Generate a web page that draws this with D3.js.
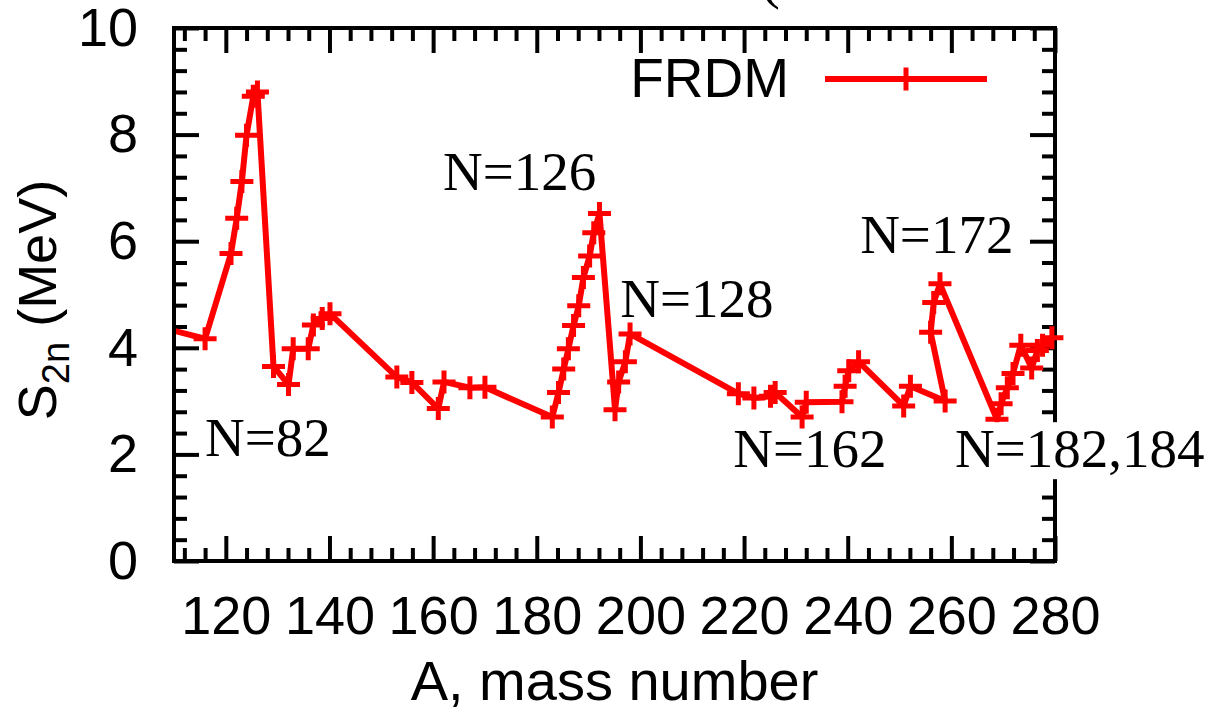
<!DOCTYPE html>
<html>
<head>
<meta charset="utf-8">
<script src="https://cdn.jsdelivr.net/npm/d3@7"></script>
<style>
  html, body { margin: 0; padding: 0; background: #fff; }
  svg { display: block; }
</style>
</head>
<body>
<svg id="chart" width="1214" height="718"></svg>
<script>
// FRDM two-neutron separation energies, listed in the order the curve is traced
const massNumber = [106.0, 116.0, 121.0, 122.1, 123.1, 124.0, 125.3, 126.1,
  129.2, 132.1, 133.0, 135.9, 136.9, 138.6, 140.1,
  153.0, 155.9, 161.0, 162.1, 167.1, 170.0,
  183.0, 184.2, 185.2, 186.1, 187.1, 188.1, 189.0, 190.2, 191.0, 192.1,
  195.1, 195.8, 197.1, 198.0,
  218.9, 221.9, 225.1, 226.0, 231.2, 232.0, 238.9, 239.5, 240.2, 242.1,
  250.8, 252.1, 258.8, 256.0, 256.6, 257.8,
  268.8, 269.6, 270.8, 271.9, 273.4, 275.5, 276.6, 277.6, 279.4];
const s2nMeV = [4.42, 4.17, 5.77, 6.43, 7.12, 7.99, 8.72, 8.80,
  3.65, 3.31, 3.98, 3.98, 4.43, 4.55, 4.64,
  3.45, 3.35, 2.86, 3.36, 3.25, 3.26,
  2.70, 3.16, 3.60, 3.98, 4.42, 4.79, 5.32, 5.72, 6.16, 6.52,
  2.84, 3.36, 3.74, 4.26,
  3.14, 3.06, 3.09, 3.16, 2.70, 2.98, 2.99, 3.28, 3.57, 3.74,
  2.91, 3.28, 3.00, 4.29, 4.85, 5.20,
  2.66, 2.95, 3.25, 3.52, 4.05, 3.62, 3.95, 4.05, 4.19];

const xTickValues = [120, 140, 160, 180, 200, 220, 240, 260, 280];
const yTickValues = [0, 2, 4, 6, 8, 10];

// shell-closure annotations and their anchor points (A, S2n)
const shellLabels = ["N=82", "N=126", "N=128", "N=162", "N=172", "N=182,184"];
const shellLabelA = [116.0, 161.9, 196.1, 217.9, 242.4, 260.7];
const shellLabelS = [1.97, 6.96, 4.58, 1.76, 5.78, 1.76];

const legendLabel = "FRDM";
const xTitle = "A, mass number";

const sans = "'Liberation Sans', Arial, Helvetica, sans-serif";
const serif = "'Liberation Serif', 'Times New Roman', serif";
const red = "#ff0000";

const svg = d3.select("#chart");

const x = d3.scaleLinear().domain([110, 280]).range([174, 1055]);
const y = d3.scaleLinear().domain([0, 10]).range([561, 28]);
const [x0, x1] = x.range();
const [y0, y1] = y.range();

const xMinor = d3.range(112, 281, 4).filter(v => v % 20 !== 0);
const yMinor = d3.range(1, 25).filter(i => i % 5 !== 0).map(i => +(i * 0.4).toFixed(1));

// inward-pointing major and minor ticks on all four sides
function drawAxis(axisFn, scale, translate, majors, minors, withLabels, pad) {
  const gMaj = svg.append("g").attr("transform", translate)
    .call(axisFn(scale).tickValues(majors).tickSize(-25).tickPadding(pad)
      .tickFormat(withLabels ? d3.format("d") : () => ""));
  const gMin = svg.append("g").attr("transform", translate)
    .call(axisFn(scale).tickValues(minors).tickSize(-13).tickFormat(() => ""));
  [gMaj, gMin].forEach(g => {
    g.select(".domain").remove();
    g.selectAll("line").attr("stroke", "#000").attr("stroke-width", 4);
  });
  gMaj.selectAll("text")
    .attr("font-family", sans).attr("font-size", 54).attr("fill", "#000");
}

drawAxis(d3.axisBottom, x, `translate(0,${y0})`, xTickValues, xMinor, true, 35);
drawAxis(d3.axisTop, x, `translate(0,${y1})`, xTickValues, xMinor, false, 0);
drawAxis(d3.axisLeft, y, `translate(${x0},0)`, yTickValues, yMinor, true, 36);
drawAxis(d3.axisRight, y, `translate(${x1},0)`, yTickValues, yMinor, false, 0);

// curve, clipped to the plotting area
svg.append("clipPath").attr("id", "plot-clip")
  .append("rect").attr("x", x0).attr("y", y1).attr("width", x1 - x0).attr("height", y0 - y1);

const points = massNumber.map((a, i) => ({ a, s: s2nMeV[i] }));

svg.append("path")
  .datum(points)
  .attr("clip-path", "url(#plot-clip)")
  .attr("fill", "none")
  .attr("stroke", red)
  .attr("stroke-width", 6)
  .attr("stroke-linejoin", "round")
  .attr("d", d3.line().x(d => x(d.a)).y(d => y(d.s)));

// frame
svg.append("rect")
  .attr("x", x0).attr("y", y1).attr("width", x1 - x0).attr("height", y0 - y1)
  .attr("fill", "none").attr("stroke", "#000").attr("stroke-width", 4);

// "+" point markers (only for points inside the x range)
const crossPath = "M-11.5,0H11.5M0,-11.5V11.5";
svg.append("g").selectAll("path")
  .data(points.filter(d => d.a >= 110 && d.a <= 280))
  .join("path")
  .attr("transform", d => `translate(${x(d.a)},${y(d.s)})`)
  .attr("d", crossPath)
  .attr("fill", "none")
  .attr("stroke", red)
  .attr("stroke-width", 5);

// legend
svg.append("text")
  .attr("x", 789).attr("y", 97)
  .attr("text-anchor", "end")
  .attr("font-family", sans).attr("font-size", 55)
  .text(legendLabel);
svg.append("line")
  .attr("x1", 825).attr("x2", 987).attr("y1", 79).attr("y2", 79)
  .attr("stroke", red).attr("stroke-width", 6);
svg.append("path")
  .attr("transform", "translate(906,79)")
  .attr("d", crossPath)
  .attr("stroke", red).attr("stroke-width", 5);

// axis titles
svg.append("text")
  .attr("x", (x0 + x1) / 2).attr("y", 700)
  .attr("text-anchor", "middle")
  .attr("font-family", sans).attr("font-size", 56)
  .text(xTitle);

const yTitle = svg.append("text")
  .attr("transform", "translate(56,300) rotate(-90)")
  .attr("text-anchor", "middle")
  .attr("font-family", sans).attr("font-size", 54);
yTitle.append("tspan").text("S");
yTitle.append("tspan").attr("font-size", 38).attr("dy", 13).text("2n");
yTitle.append("tspan").attr("dy", -13).text(" (MeV)");

// shell-closure labels
shellLabels.forEach((lbl, i) => {
  const tx = x(shellLabelA[i]);
  const ty = y(shellLabelS[i]);
  const t = svg.append("text")
    .attr("x", tx).attr("y", ty)
    .attr("font-family", serif).attr("font-size", 55)
    .attr("fill", "#000")
    .text(lbl);
  if (lbl === "N=182,184") {
    const bb = t.node().getBBox();
    svg.insert("rect", () => t.node())
      .attr("x", bb.x - 3).attr("y", bb.y + 4)
      .attr("width", bb.width + 6).attr("height", bb.height - 4)
      .attr("fill", "#fff");
  }
});

// tail of the opening parenthesis of the title above the frame
svg.append("text")
  .attr("x", 760).attr("y", -3)
  .attr("font-family", serif).attr("font-size", 60)
  .attr("font-weight", 300)
  .text("(");
</script>
</body>
</html>
